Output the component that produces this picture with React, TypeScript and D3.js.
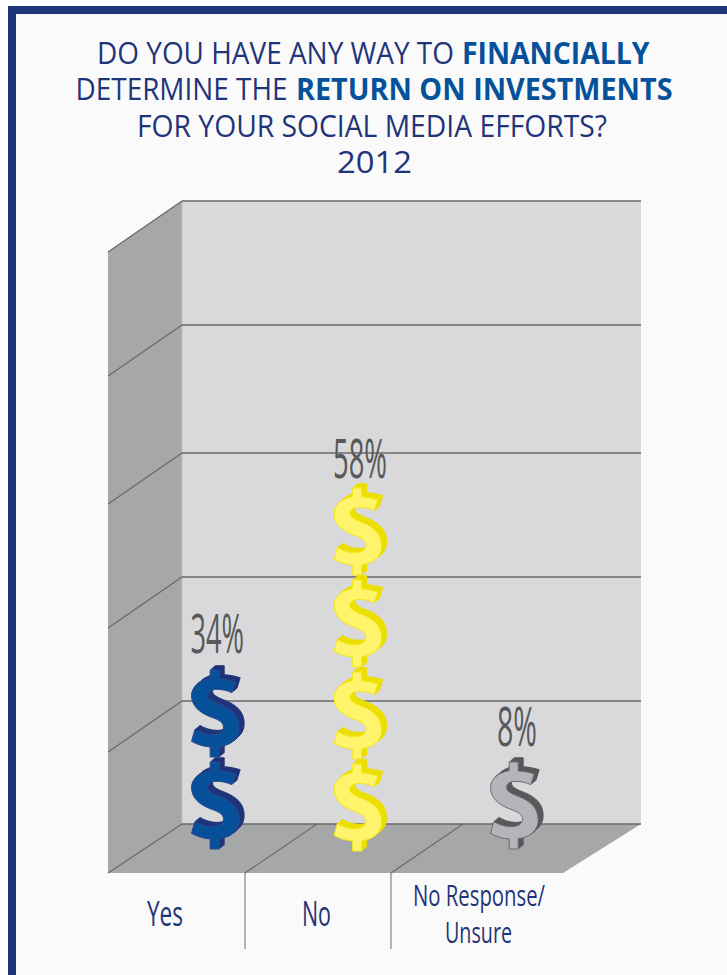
import React from "react";
import * as d3 from "d3";

// Survey answers and how many dollar signs each stack holds
const categories = ["Yes", "No", "No Response/ Unsure"];
const percents = [34, 58, 8];
const dollarCounts = [2, 4, 1];
const gridLevels = [0, 20, 40, 60, 80, 100];

const titleRegular = ["DO YOU HAVE ANY WAY TO", "DETERMINE THE", "FOR YOUR SOCIAL MEDIA EFFORTS?", "2012"];
const titleBold = ["FINANCIALLY", "RETURN ON INVESTMENTS", "", ""];

const NAVY = "#1f3479";
const BLUE = "#05519a";
const INK = "#58595b";
const WALL = "#d9d9db";
const SIDE = "#a6a7a9";
const RULE = "#68696b";
const FONT = "'Open Sans', sans-serif";

// Dollar sign outline in its own 3-per-pixel drawing space
const DOLLAR =
  "M70,24 L97,24 L97,51 C115,52 130,55 145,60 L135,92 C122,86 107,82 90,82 C72,82 62,90 62,100 " +
  "C62,112 76,119 100,128 C137,143 157,164 157,198 C157,227 135,250 97,254 L97,285 L70,285 L70,255 " +
  "C50,254 30,247 14,238 L24,203 C38,211 56,218 76,218 C98,218 110,208 110,195 C110,182 98,174 72,165 " +
  "C38,152 14,132 14,100 C14,75 38,55 70,50 Z";

const palette = d3
  .scaleOrdinal<string, { face: string; depth: string; edge: string }>()
  .domain(categories)
  .range([
    { face: "#06509a", depth: "#1f3479", edge: "#2a4a94" },
    { face: "#fff46c", depth: "#ebdf00", edge: "#f4e818" },
    { face: "#b3b5b8", depth: "#58595b", edge: "#6d6e71" },
  ]);

// Piecewise scale: the painted grid bands are not quite even
const y = d3.scaleLinear().domain(gridLevels).range([824, 701, 577, 453, 325, 201]);
const wall = { left: 182, right: 641, top: y(100), floor: y(0) };
const depth = { dx: -74, dy: 51 };
const frontY = 873;

const glyphX = d3.scaleOrdinal<string, number>().domain(categories).range([217.5, 360, 516.5]);
const glyphBase = d3.scaleOrdinal<string, number>().domain(categories).range([849, 851, 849]);
const PITCH = 92;

// Extents of each percent label: left edge, width, baseline
const pctBox = d3
  .scaleOrdinal<string, [number, number, number]>()
  .domain(categories)
  .range([
    [190.5, 53.5, 653],
    [333, 54, 477.5],
    [497, 40, 745.5],
  ]);

const titleLayout: { x: number; w: number; bx?: number; bw?: number; base: number }[] = [
  { x: 97, w: 357, bx: 462, bw: 187.5, base: 64 },
  { x: 75.5, w: 212, bx: 296, bw: 376.5, base: 100 },
  { x: 137, w: 470, base: 137 },
  { x: 337, w: 75, base: 173 },
];

const catLayout: { x: number; w: number; base: number; text: string }[] = [
  { x: 147, w: 36, base: 926, text: "Yes" },
  { x: 302, w: 29, base: 926, text: "No" },
  { x: 413, w: 132, base: 905.5, text: "No Response/" },
  { x: 445, w: 67, base: 943, text: "Unsure" },
];

const separators = [245, 391];

const poly = (pts: [number, number][]) => d3.line()(pts) + "Z";

function Dollar({ cat, bottom }: { cat: string; bottom: number }) {
  const c = palette(cat);
  const tx = glyphX(cat) - 92 / 3;
  const ty = bottom - 285 / 3;
  const steps = d3.range(5, 0, -1);
  return (
    <g>
      {steps.map((s) => (
        <path
          key={s}
          d={DOLLAR}
          transform={`translate(${tx + s},${ty - s * 0.85}) scale(${1 / 3})`}
          fill={c.depth}
          stroke={c.depth}
          strokeWidth={3}
        />
      ))}
      <path
        d={DOLLAR}
        transform={`translate(${tx},${ty}) scale(${1 / 3})`}
        fill={c.face}
        stroke={c.edge}
        strokeWidth={3}
      />
    </g>
  );
}

export default function App() {
  return (
    <svg
      width={727}
      height={975}
      style={{ position: "fixed", left: 0, top: 0, display: "block", background: "#fff" }}
    >
      {/* Page panel: the navy frame shows only along its top and left edges */}
      <rect x={12} y={10} width={800} height={1100} fill="#fafafa" stroke={NAVY} strokeWidth={8} />

      {titleRegular.map((t, i) => {
        const l = titleLayout[i];
        return (
          <text key={t} y={l.base} fontFamily={FONT} fontSize={30.5} fill={NAVY}>
            <tspan x={l.x} textLength={l.w} lengthAdjust="spacingAndGlyphs">
              {t}
            </tspan>
            {titleBold[i] && (
              <tspan
                x={l.bx}
                fill={BLUE}
                fontWeight={700}
                textLength={l.bw}
                lengthAdjust="spacingAndGlyphs"
              >
                {titleBold[i]}
              </tspan>
            )}
          </text>
        );
      })}

      {/* Back wall, side wall and floor of the box */}
      <rect x={wall.left} y={wall.top} width={wall.right - wall.left} height={wall.floor - wall.top} fill={WALL} />
      <path
        d={poly([
          [wall.left, wall.top],
          [wall.left, wall.floor],
          [wall.left + depth.dx, frontY],
          [wall.left + depth.dx, wall.top + depth.dy],
        ])}
        fill={SIDE}
      />
      <path
        d={poly([
          [wall.left, wall.floor],
          [wall.right, wall.floor],
          [563, frontY],
          [wall.left + depth.dx, frontY],
        ])}
        fill={SIDE}
      />
      <line x1={wall.left} x2={wall.left} y1={wall.top} y2={wall.floor} stroke="#bcbec0" strokeWidth={1} />

      {gridLevels.map((g) => (
        <g key={g} stroke={RULE} strokeWidth={1.3} fill="none">
          <line x1={wall.left} x2={wall.right} y1={y(g)} y2={y(g)} />
          <line
            x1={wall.left}
            y1={y(g)}
            x2={wall.left + depth.dx}
            y2={g === 0 ? frontY : y(g) + depth.dy}
          />
        </g>
      ))}

      {/* Lane dividers across the floor and down to the category labels */}
      {separators.map((x) => (
        <g key={x} fill="none">
          <line x1={x} y1={frontY} x2={x - depth.dx - 2} y2={wall.floor} stroke={RULE} strokeWidth={1.1} />
          <line x1={x} y1={frontY} x2={x} y2={949} stroke="#808285" strokeWidth={1.2} />
        </g>
      ))}

      {categories.map((cat, i) => {
        const b = pctBox(cat);
        return (
          <g key={cat}>
            {d3.range(dollarCounts[i] - 1, -1, -1).map((k) => (
              <Dollar key={k} cat={cat} bottom={glyphBase(cat) - k * PITCH} />
            ))}
            <text
              x={b[0]}
              y={b[2]}
              fontFamily={FONT}
              fontSize={54}
              fill={INK}
              textLength={b[1]}
              lengthAdjust="spacingAndGlyphs"
            >
              {`${percents[i]}%`}
            </text>
          </g>
        );
      })}

      {catLayout.map((c) => (
        <text
          key={c.text}
          x={c.x}
          y={c.base}
          fontFamily={FONT}
          fontWeight={500}
          fontSize={c.text.length > 3 ? 29 : 34}
          fill={NAVY}
          textLength={c.w}
          lengthAdjust="spacingAndGlyphs"
        >
          {c.text}
        </text>
      ))}
    </svg>
  );
}
